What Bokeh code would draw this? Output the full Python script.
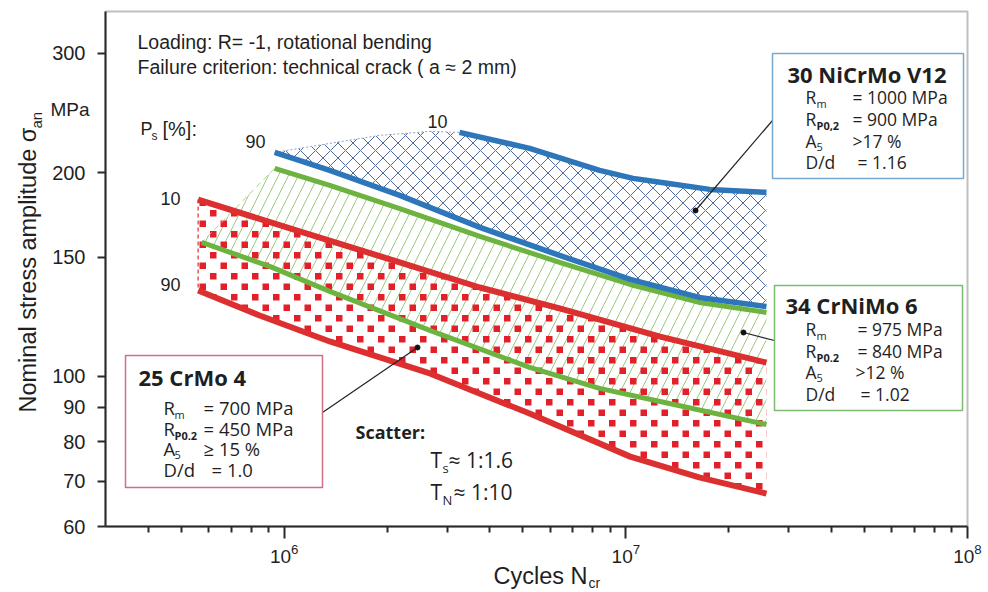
import base64
import numpy as np
from bokeh.plotting import figure
from bokeh.models import (Range1d, FixedTicker, NumeralTickFormatter, LogTickFormatter,
                          Label, BoxAnnotation, ImageURLTexture)
from bokeh.embed import file_html
from bokeh.resources import INLINE

# ---------------- data ----------------
X_RANGE = (3.0e5, 1.0e8)
Y_RANGE = (60.0, 346.0)
X_TICKS = [1e6, 1e7, 1e8]
X_MINOR = [4e5, 5e5, 6e5, 7e5, 8e5, 9e5,
           2e6, 3e6, 4e6, 5e6, 6e6, 7e6, 8e6, 9e6,
           2e7, 3e7, 4e7, 5e7, 6e7, 7e7, 8e7, 9e7]
Y_TICKS = [60, 70, 80, 90, 100, 150, 200, 300]

# 25 CrMo 4 (red), Ps = 10 % and 90 %
N_red_10 = [5.6e5, 1.11e6, 2.18e6, 3.74e6, 6.40e6, 1.26e7, 2.58e7]
S_red_10 = [182.5, 163.7, 147.4, 135.3, 126.0, 114.5, 104.8]
N_red_90 = [5.6e5, 8.48e5, 1.36e6, 2.67e6, 5.23e6, 1.03e7, 1.64e7, 2.58e7]
S_red_90 = [133.9, 123.0, 112.6, 101.0, 88.1, 76.1, 70.9, 67.1]

# 34 CrNiMo 6 (green)
N_grn_10 = [9.38e5, 1.36e6, 2.18e6, 3.74e6, 6.40e6, 1.03e7, 1.64e7, 2.58e7]
S_grn_10 = [202.9, 191.5, 177.0, 161.0, 147.4, 136.7, 128.6, 124.3]
N_grn_90 = [5.74e5, 9.07e5, 1.36e6, 2.67e6, 5.23e6, 8.38e6, 1.26e7, 2.58e7]
S_grn_90 = [157.7, 145.4, 133.5, 116.9, 103.1, 96.0, 91.8, 84.9]

# 30 NiCrMo V12 (blue)
N_blu_10 = [3.26e6, 5.23e6, 8.38e6, 1.05e7, 1.26e7, 1.76e7, 2.58e7]
S_blu_10 = [229.3, 217.2, 201.5, 196.1, 193.5, 188.9, 187.0]
N_blu_90 = [9.38e5, 1.36e6, 2.18e6, 3.74e6, 6.40e6, 1.03e7, 1.64e7, 2.58e7]
S_blu_90 = [214.2, 201.5, 185.1, 166.0, 150.9, 139.1, 130.8, 126.8]
N_blu_top = [9.38e5, 1.36e6, 1.90e6, 2.67e6, 3.26e6]          # hatched band edge
S_blu_top = [214.2, 220.9, 227.0, 230.1, 229.3]

# ---------------- styles ----------------
RED, GREEN, BLUE = "#dc2f30", "#6cb33f", "#2d76b9"
INK = "#1f1f1f"
AXC = "#2a2a2a"
SANS = "Liberation Sans"
BOXF = "Open Sans"
MID = {SANS: 0.35, BOXF: 0.39}   # text-box centre above the baseline (em)

# plot-area geometry in page pixels; the Bokeh frame fills the whole page and the
# axes are pinned to the data-range edges so that outer texts are not clipped
FL, FR, FT, FB = 105, 967, 11, 526
W, H = 988, 592
lx0, lx1 = np.log10(X_RANGE)
ly0, ly1 = np.log10(Y_RANGE)


def dx(px):
    return 10 ** (lx0 + (px - FL) / (FR - FL) * (lx1 - lx0))


def dy(py):
    return 10 ** (ly0 + (FB - py) / (FB - FT) * (ly1 - ly0))


p = figure(width=W, height=H, x_axis_type="log", y_axis_type="log",
           x_range=Range1d(dx(0), dx(W)), y_range=Range1d(dy(H), dy(0)),
           output_backend="svg", toolbar_location=None, min_border=0)
p.background_fill_color = "white"
p.border_fill_color = "white"
p.outline_line_color = None
p.xgrid.visible = False
p.ygrid.visible = False

# axes pinned to the plot area
p.xaxis.fixed_location = Y_RANGE[0]
p.yaxis.fixed_location = X_RANGE[0]
p.xaxis.bounds = X_RANGE
p.yaxis.bounds = Y_RANGE
p.xaxis.ticker = FixedTicker(ticks=X_TICKS, minor_ticks=X_MINOR)
p.xaxis.formatter = LogTickFormatter()
p.yaxis.ticker = FixedTicker(ticks=Y_TICKS, minor_ticks=[])
p.yaxis.formatter = NumeralTickFormatter(format="0")
for ax in (p.xaxis[0], p.yaxis[0]):
    ax.axis_line_color = AXC
    ax.axis_line_width = 2
    ax.major_tick_line_color = AXC
    ax.major_tick_line_width = 2
    ax.minor_tick_line_color = AXC
    ax.minor_tick_line_width = 2
    ax.major_tick_in = 0
    ax.minor_tick_in = 0
    ax.major_label_text_font = SANS
    ax.major_label_text_color = INK
p.xaxis.major_tick_out = 12
p.xaxis.minor_tick_out = 6
p.xaxis.major_label_standoff = 5
p.xaxis.major_label_text_font_size = "19px"
p.yaxis.major_tick_out = 8
p.yaxis.minor_tick_out = 0
p.yaxis.major_label_standoff = 12
p.yaxis.major_label_text_font_size = "20px"

# plot-area border (top and right sides)
p.add_layout(BoxAnnotation(left=X_RANGE[0], right=X_RANGE[1], bottom=Y_RANGE[0], top=Y_RANGE[1],
                           fill_color=None, line_color=AXC, line_width=2, level="underlay"))

# hatched scatter bands
tile = ("<svg xmlns='http://www.w3.org/2000/svg' width='21' height='21'>"
        "<rect x='0' y='0' width='6.5' height='6.5' fill='#e3202a'/>"
        "<rect x='10.5' y='10.5' width='6.5' height='6.5' fill='#e3202a'/></svg>")
dots = ImageURLTexture(url="data:image/svg+xml;base64," + base64.b64encode(tile.encode()).decode())

p.patch(N_grn_10 + N_grn_90[::-1], S_grn_10 + S_grn_90[::-1],
        fill_color=None, line_color=None,
        hatch_pattern="/", hatch_color="#9ccb80", hatch_scale=20, hatch_weight=1)
p.patch(N_blu_top + N_blu_10[1:] + N_blu_90[::-1],
        S_blu_top + S_blu_10[1:] + S_blu_90[::-1],
        fill_color=None, line_color=None,
        hatch_pattern="x", hatch_color="#33508e", hatch_scale=15, hatch_weight=1,
        hatch_alpha=0.85)
p.patch(N_red_10 + N_red_90[::-1], S_red_10 + S_red_90[::-1],
        fill_color=None, line_color=None,
        hatch_pattern="dots", hatch_extra={"dots": dots},
        hatch_color="#e3202a", hatch_scale=21)

# band edges (dashed)
p.line(N_blu_top, S_blu_top, line_color="#8aa0c8", line_width=1, line_dash="2 2")
p.line([N_grn_10[0], N_grn_90[0]], [S_grn_10[0], S_grn_90[0]],
       line_color="#a9d48f", line_width=1, line_dash="6 4")
p.line([N_red_10[0], N_red_90[0]], [S_red_10[0], S_red_90[0]],
       line_color=RED, line_width=1.2, line_dash="4 3")

# curves
p.line(N_grn_10, S_grn_10, line_color=GREEN, line_width=5)
p.line(N_grn_90, S_grn_90, line_color=GREEN, line_width=5)
p.line(N_blu_90, S_blu_90, line_color=BLUE, line_width=5.5)
p.line(N_blu_10, S_blu_10, line_color=BLUE, line_width=5.5)
p.line(N_red_10, S_red_10, line_color=RED, line_width=6)
p.line(N_red_90, S_red_90, line_color=RED, line_width=6)

# leader lines with dots
lead = [((772, 120), (695, 210)), ((774, 340), (743, 332)), ((322, 412), (417, 347))]
p.segment(x0=[dx(a[0]) for a, b in lead], y0=[dy(a[1]) for a, b in lead],
          x1=[dx(b[0]) for a, b in lead], y1=[dy(b[1]) for a, b in lead],
          line_color="#222222", line_width=1.2)
p.scatter(x=[dx(b[0]) for a, b in lead], y=[dy(b[1]) for a, b in lead],
          size=5, color="#111111")


def txt(px, py, s, size, font=SANS, style="normal", align="left", vertical=False, color=INK):
    """px, py: start (or end) of the text on its baseline, in page pixels."""
    k = MID[font] * size
    if vertical:
        ax_, ay_, ang = px - k, py, np.pi / 2
    else:
        ax_, ay_, ang = px, py - k, 0.0
    p.add_layout(Label(x=dx(ax_), y=dy(ay_), text=s, text_font=font,
                       text_font_size=f"{size}px", text_font_style=style,
                       text_color=color, text_align=align,
                       text_baseline="alphabetic", angle=ang))


def box(l, t, r, b, color):
    p.add_layout(BoxAnnotation(left=dx(l), right=dx(r), top=dy(t), bottom=dy(b),
                               fill_color="white", fill_alpha=1.0,
                               line_color=color, line_width=1.5, line_alpha=1.0))


# header texts
txt(137, 48, "Loading: R= -1, rotational bending", 19.5)
txt(137, 73, "Failure criterion: technical crack ( a \u2248 2 mm)", 19.5)
txt(140, 135, "P", 18)
txt(151, 140, "s", 12)
txt(162, 135, "[%]:", 20)
txt(245, 147, "90", 18)
txt(427, 127, "10", 18)
txt(160, 204, "10", 18)
txt(160, 290, "90", 18)
txt(89, 116, "MPa", 19, align="right")

# axis titles
txt(36, 412, "Nominal stress amplitude \u03c3", 23.5, vertical=True)
txt(41, 128, "an", 15, vertical=True)
txt(493, 584, "Cycles N", 23.5)
txt(588, 587, "cr", 14)

# material boxes
boxes = [
    dict(rect=(772, 53, 963, 178), color="#77a6cf", title="30 NiCrMo V12", tx=787, ty=82,
         sx=805, vx=852, rows=[("R", "m", "= 1000 MPa", 0), ("R", "P0,2", "= 900 MPa", 0),
                                ("A", "5", ">17 %", 0), ("D/d", "", "= 1.16", 5)],
         base=[103, 125, 147, 168], size=17.5),
    dict(rect=(774, 285, 962, 410), color="#7dbb73", title="34 CrNiMo 6", tx=785, ty=313,
         sx=805, vx=857, rows=[("R", "m", "= 975 MPa", 0), ("R", "P0.2", "= 840 MPa", 0),
                                ("A", "5", ">12 %", -2), ("D/d", "", "= 1.02", 3)],
         base=[335, 357, 378, 400], size=17.5),
    dict(rect=(125, 355, 322, 487), color="#cf6f86", title="25 CrMo 4", tx=138, ty=385,
         sx=163, vx=203, rows=[("R", "m", "= 700 MPa", 0), ("R", "P0.2", "= 450 MPa", 0),
                                ("A", "5", "\u2265 15 %", 0), ("D/d", "", "= 1.0", 8)],
         base=[414, 435, 455, 476], size=18.5),
]
for bx in boxes:
    l, t, r, b = bx["rect"]
    box(l, t, r, b, bx["color"])
    txt(bx["tx"], bx["ty"], bx["title"], 22, font=BOXF, style="bold")
    for (sym, sub, val, off), yb in zip(bx["rows"], bx["base"]):
        txt(bx["sx"], yb, sym, bx["size"], font=BOXF)
        if sub:
            txt(bx["sx"] + 11, yb + 4, sub, 11, font=BOXF, style="bold" if "P" in sub else "normal")
        txt(bx["vx"] + off, yb, val, bx["size"], font=BOXF)

# scatter note
txt(355, 439, "Scatter:", 18, font=BOXF, style="bold")
txt(430, 468, "T", 21, font=BOXF)
txt(442, 473, "s", 13, font=BOXF)
txt(448, 468, "\u2248 1:1.6", 21, font=BOXF)
txt(430, 500, "T", 21, font=BOXF)
txt(442, 505, "N", 13, font=BOXF)
txt(453, 500, "\u2248 1:10", 21, font=BOXF)

open("out.html", "w").write(file_html(p, INLINE))
